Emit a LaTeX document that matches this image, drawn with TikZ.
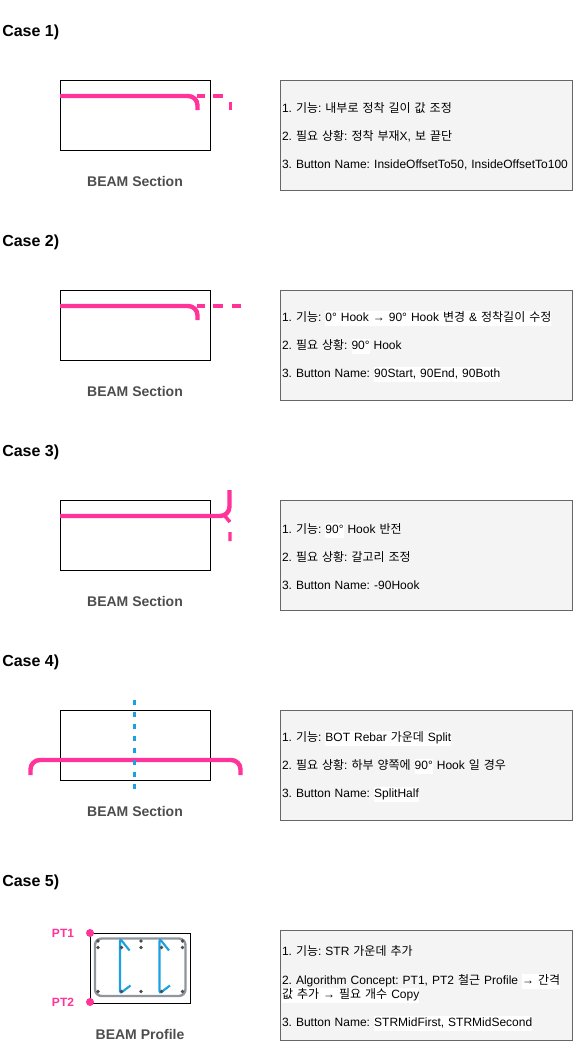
\documentclass[tikz,border=0pt]{standalone}
\usepackage{fontspec}
\setmainfont{Liberation Sans}
\newfontfamily\krfont{Noto Sans CJK KR}
\usetikzlibrary{positioning}
\definecolor{rebarpink}{HTML}{FF3399}
\definecolor{cutblue}{HTML}{1BA1E2}
\definecolor{capgray}{HTML}{4D4D4D}
\definecolor{boxgray}{HTML}{F4F4F4}
\definecolor{edgegray}{HTML}{666666}
\definecolor{stirrupgray}{HTML}{8F969D}
\newcommand{\kr}[1]{{\krfont #1}}
\newcommand{\hl}[1]{{\fboxsep=0pt\colorbox{white}{\strut #1}}}
\newcommand{\topgap}[1]{\rule{0pt}{#1}}
\begin{document}
\begin{tikzpicture}[
	x=0.75pt,
	y=-0.75pt,
	casetitle/.style={anchor=west,inner sep=0pt,font=\fontsize{12}{14}\selectfont\bfseries},
	beam/.style={draw,line width=0.75pt,outer sep=0pt,inner sep=0pt,minimum width=112.5pt,minimum height=52.5pt},
	profile/.style={beam,minimum width=75pt},
	caption/.style={text=capgray,inner sep=0pt,font=\fontsize{10.5}{12}\selectfont\bfseries},
	infobox/.style={draw=edgegray,fill=boxgray,line width=0.75pt,outer sep=0pt,inner sep=1.5pt,text width=216pt,minimum height=82.5pt,align=left,font=\fontsize{9}{11.25}\selectfont\frenchspacing},
	rebar/.style={draw=rebarpink,line width=3.3pt,rounded corners=7pt},
	rebarghost/.style={draw=rebarpink,line width=2.6pt},
	cutline/.style={draw=cutblue,line width=1.8pt,dash pattern=on 4pt off 5pt},
	stirrup/.style={draw=stirrupgray,line width=1.8pt,rounded corners=5pt},
	tie/.style={draw=cutblue,line width=1.6pt,rounded corners=2pt},
	ptdot/.style={circle,fill=rebarpink,inner sep=0pt,minimum size=6pt},
	ptlabel/.style={text=rebarpink,inner sep=0pt,font=\fontsize{9}{11}\selectfont\bfseries},
	]
\useasboundingbox (0,0) rectangle (573,1064);
\node [casetitle] (title1) at (2,32) {Case 1)};
\node [beam] (beam1) at (135,115) {};
\node [caption,below=19.5pt of beam1] (caption1) {BEAM Section};
\node [infobox,right=52.5pt of beam1.north east,anchor=north west] (info1) {%
	\topgap{10pt}1. \kr{기능}: \kr{내부로 정착 길이 값 조정}\\[9.75pt]
	2. \kr{필요 상황}: \kr{정착 부재}X, \kr{보 끝단}\\[9.75pt]
	\mbox{3. Button Name:\hspace{3.1pt}InsideOffsetTo50, InsideOffsetTo100}};
\draw [rebar] (60,96) -- (197.5,96) -- (197.5,110);
\draw [rebarghost] (197,96) -- (205,96) (213,96) -- (223,96) (230.5,102) -- (230.5,110);

\node [casetitle] (title2) at (2,242) {Case 2)};
\node [beam] (beam2) at (135,325) {};
\node [caption,below=19.5pt of beam2] (caption2) {BEAM Section};
\node [infobox,right=52.5pt of beam2.north east,anchor=north west] (info2) {%
	\topgap{10pt}1. \kr{기능}: \hl{0° Hook → 90° Hook \kr{변경} \& \kr{정착길이 수정}}\\[9.75pt]
	2. \kr{필요 상황}: \hl{90°} Hook\\[9.75pt]
	3. Button Name:\hspace{3.1pt}\hl{90Start, 90End, 90Both}};
\draw [rebar] (60,306) -- (197.5,306) -- (197.5,320);
\draw [rebarghost] (197,306) -- (205,306) (213,306) -- (223,306) (232,306) -- (241,306);

\node [casetitle] (title3) at (2,452) {Case 3)};
\node [beam] (beam3) at (135,535) {};
\node [caption,below=19.5pt of beam3] (caption3) {BEAM Section};
\node [infobox,right=52.5pt of beam3.north east,anchor=north west] (info3) {%
	\topgap{10pt}1. \kr{기능}: \hl{90°} Hook \kr{반전}\\[9.75pt]
	2. \kr{필요 상황}: \kr{갈고리 조정}\\[9.75pt]
	3. Button Name:\hspace{3.1pt}-90Hook};
\draw [rebar] (60,516) -- (229.5,516) -- (229.5,490);
\draw [rebarghost] (224,515) -- (230,522) (230,532) -- (230,541);

\node [casetitle] (title4) at (2,662) {Case 4)};
\node [beam] (beam4) at (135,745) {};
\node [caption,below=19.5pt of beam4] (caption4) {BEAM Section};
\node [infobox,right=52.5pt of beam4.north east,anchor=north west] (info4) {%
	\topgap{10pt}1. \kr{기능}: \hl{BOT Rebar \kr{가운데} Split}\\[9.75pt]
	2. \kr{필요 상황}: \kr{하부 양쪽에} \hl{90°} Hook \kr{일 경우}\\[9.75pt]
	3. Button Name:\hspace{3.1pt}\hl{SplitHalf}};
\draw [rebar] (30.5,775) -- (30.5,760) -- (240.5,760) -- (240.5,775);
\draw [cutline] (134.5,700) -- (134.5,792);

\node [casetitle] (title5) at (2,882) {Case 5)};
\node [profile] (beam5) at (140,968) {};
\node [caption,below=19.25pt of beam5] (caption5) {BEAM Profile};
\node [infobox,anchor=north west] (info5) at (280,930) {%
	\topgap{12.5pt}1. \kr{기능}: STR \kr{가운데 추가}\\[10.5pt]
	2. Algorithm Concept: PT1, PT2 \kr{철근} Profile \hl{→ \kr{간격}}\\[-0.75pt]
	\hl{\kr{값 추가} → \kr{필요 개수} Copy}\\[9.75pt]
	3. Button Name:\hspace{3.1pt}\hl{STRMidFirst, STRMidSecond}};
\draw [stirrup] (95,938.5) rectangle (185.5,996);
\foreach \xpos in {120,159.5}
	\draw [tie] (\xpos+9.5,950.5) -- (\xpos,938.5) -- (\xpos,993.5) -- (\xpos+10.5,985.5);
\foreach \xpos in {98,141,182.5}
	\fill [black!70] (\xpos,941) circle (1.8) (\xpos,947.5) circle (1.8) (\xpos,991.5) circle (1.8);
\foreach \xpos in {121.5,161.5}
	\fill [black!70] (\xpos,947.5) circle (1.8) (\xpos,991.5) circle (1.8);
\node [ptdot] (pt1) at (90,933) {};
\node [ptdot] (pt2) at (90,1002) {};
\node [ptlabel] (ptlabel1) at (63,933) {PT1};
\node [ptlabel] (ptlabel2) at (63,1002) {PT2};
\end{tikzpicture}
\end{document}
